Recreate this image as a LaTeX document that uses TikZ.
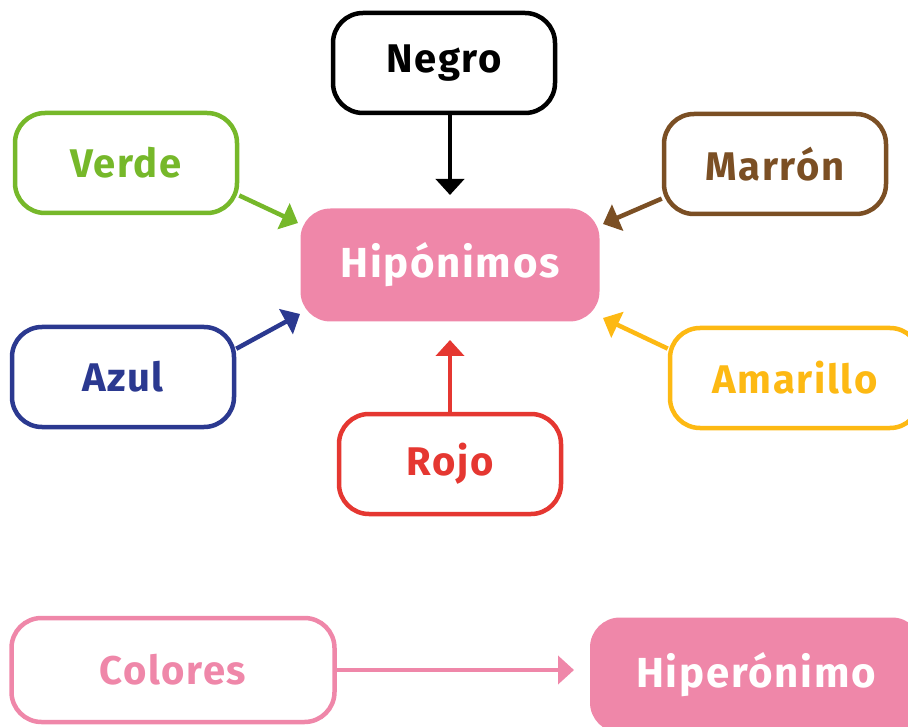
\documentclass[tikz,border=0pt]{standalone}
\usepackage{fontspec}
\setmainfont{Fira Sans}[LetterSpace=4]
\usetikzlibrary{arrows.meta}
\definecolor{cgreen}{HTML}{76B82A}
\definecolor{cbrown}{HTML}{7B4F24}
\definecolor{cnavy}{HTML}{2B3990}
\definecolor{cyellow}{HTML}{FDB913}
\definecolor{cred}{HTML}{E53731}
\definecolor{cpink}{HTML}{EF87A9}
\tikzset{
  box/.style={draw, line width=4.5pt, rounded corners=30pt, minimum width=222pt, minimum height=100pt, fill=white, inner sep=0pt,
    font=\fontsize{40}{46}\selectfont\bfseries},
  filledbox/.style={fill=cpink, text=white, rounded corners=30pt, inner sep=0pt, font=\fontsize{42}{48}\selectfont\bfseries},
  conn/.style={line width=4.5pt, -{Triangle[length=16pt,width=28pt]}},
}
\begin{document}
\begin{tikzpicture}[x=1pt,y=-1pt]
\useasboundingbox (0,0) rectangle (908,727);
\node[filledbox, minimum width=299pt, minimum height=113pt] (hipo) at (450,265) {Hipónimos};
\node[box, draw=black, text=black] (negro) at (444,63) {Negro};
\node[box, draw=cgreen, text=cgreen] (verde) at (126,163) {Verde};
\node[box, draw=cbrown, text=cbrown] (marron) at (775,164) {Marrón};
\node[box, draw=cnavy, text=cnavy] (azul) at (123,377) {Azul};
\node[box, draw=cyellow, text=cyellow, minimum width=250pt] (amarillo) at (795,378) {Amarillo};
\node[box, draw=cred, text=cred] (rojo) at (450,464) {Rojo};
\node[box, draw=cpink, text=cpink, minimum width=323pt, minimum height=104pt] (colores) at (173,670) {Colores};
\node[filledbox, minimum width=332pt, minimum height=115pt] (hiper) at (756,675) {Hiperónimo};
\coordinate (nt) at (450,195);
\coordinate (vt) at (298,223);
\coordinate (mt) at (603,224);
\coordinate (at) at (300,314);
\coordinate (yt) at (603,318);
\coordinate (rt) at (450,340);
\coordinate (ct) at (574,670);
\draw[conn, black] (nt |- negro.south) -- (nt);
\draw[conn, cgreen] (verde.-16) -- (vt);
\draw[conn, cbrown] (marron.197) -- (mt);
\draw[conn, cnavy] (azul.14) -- (at);
\draw[conn, cyellow] (amarillo.167) -- (yt);
\draw[conn, cred] (rojo.north) -- (rt);
\draw[conn, cpink] (colores.east) -- (ct);
\end{tikzpicture}
\end{document}
